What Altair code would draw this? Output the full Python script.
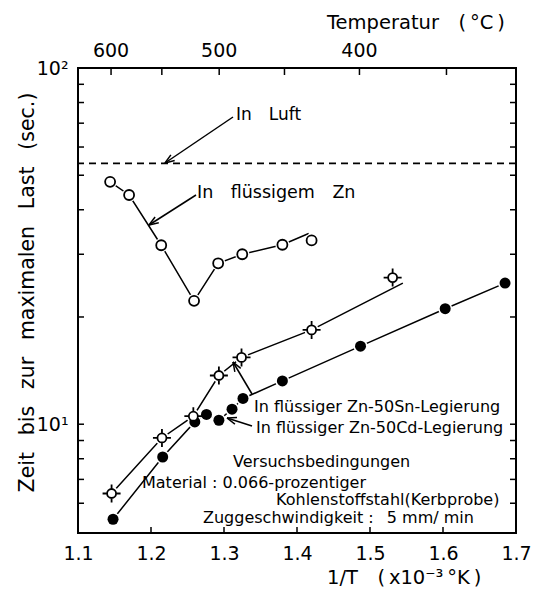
import altair as alt
import pandas as pd
import numpy as np

# ---------------- data ----------------
# In flüssigem Zn (open circles)
zn_x = [1.144, 1.170, 1.214, 1.259, 1.292, 1.325, 1.380, 1.420]
zn_y = [47.9, 44.0, 31.8, 22.2, 28.3, 30.0, 31.9, 32.8]
zn_line_x = [1.144, 1.170, 1.214, 1.259, 1.292, 1.325, 1.380, 1.416]
zn_line_y = [47.9, 44.0, 31.8, 22.2, 28.3, 30.0, 31.9, 34.3]

# In flüssiger Zn-50Sn-Legierung (circles with error ticks)
sn_x = [1.146, 1.215, 1.258, 1.293, 1.324, 1.420, 1.531]
sn_y = [6.39, 9.15, 10.53, 13.7, 15.4, 18.4, 25.8]
sn_line_x = [1.146, 1.215, 1.258, 1.293, 1.324, 1.420, 1.545]
sn_line_y = [6.39, 9.15, 10.53, 13.7, 15.4, 18.4, 24.9]

# In flüssiger Zn-50Cd-Legierung (filled circles)
cd_x = [1.148, 1.216, 1.260, 1.276, 1.293, 1.311, 1.326, 1.380, 1.487, 1.603, 1.685]
cd_y = [5.41, 8.09, 10.15, 10.65, 10.26, 11.02, 11.81, 13.23, 16.56, 21.1, 24.9]

# In Luft (dashed level)
luft_y = [54.0]

# axis ticks / labels
x_tick_vals = [1.1, 1.2, 1.3, 1.4, 1.5, 1.6, 1.7]
x_inner_ticks = [1.2, 1.3, 1.4, 1.5, 1.6]
y_label_vals = [10, 100]
y_minor_ticks = [6, 7, 8, 9, 10, 20, 30, 40, 50, 60, 70, 80, 90]
temp_ticks = [600, 550, 500, 450, 400, 350]
temp_labels = [600, 500, 400]

# ---------------- layout ----------------
FONT = "DejaVu Sans"
W, H = 438, 465
OX, OY = 78, 68
XMIN, XMAX = 1.1, 1.7
YMIN, YMAX = 4.95, 100.0

xs = alt.Scale(domain=[XMIN, XMAX], nice=False, zero=False)
ys = alt.Scale(type="log", domain=[YMIN, YMAX], nice=False)

x_axis = alt.Axis(values=x_tick_vals, format=".1f", title=None, ticks=False, domain=False,
                  grid=False, labelFont=FONT, labelFontSize=19, labelColor="black",
                  labelPadding=11, labelFlush=False, labelOverlap=False)
y_axis = alt.Axis(values=y_label_vals, labelExpr="datum.value == 100 ? '10²' : '10¹'",
                  title=None, ticks=False, domain=False, grid=False, labelFont=FONT,
                  labelFontSize=19, labelColor="black", labelPadding=10,
                  labelFlush=False, labelOverlap=False)


def X(field):
    return alt.X(field, type="quantitative", scale=xs, axis=x_axis)


def Y(field):
    return alt.Y(field, type="quantitative", scale=ys, axis=y_axis)


def cx(px):  # canvas pixel -> data x
    return XMIN + (px - OX) / W * (XMAX - XMIN)


def cy(py):  # canvas pixel -> data y (log)
    lmin, lmax = np.log10(YMIN), np.log10(YMAX)
    return float(10 ** (lmax - (py - OY) / H * (lmax - lmin)))


# ---------------- frame ticks ----------------
bottom_ticks = alt.Chart(pd.DataFrame({"v": x_inner_ticks})).mark_rule(
    color="black", strokeWidth=1.5).encode(x=X("v"), y=alt.value(H), y2=alt.value(H - 6))
left_ticks = alt.Chart(pd.DataFrame({"v": y_minor_ticks})).mark_rule(
    color="black", strokeWidth=1.5).encode(y=Y("v"), x=alt.value(0), x2=alt.value(6))
right_ticks = alt.Chart(pd.DataFrame({"v": y_minor_ticks})).mark_rule(
    color="black", strokeWidth=1.5).encode(y=Y("v"), x=alt.value(W), x2=alt.value(W - 6))
top_ticks = alt.Chart(pd.DataFrame({"t": temp_ticks})).transform_calculate(
    x="1000 / (datum.t + 273.15)").mark_rule(color="black", strokeWidth=1.5).encode(
    x=X("x"), y=alt.value(0), y2=alt.value(7))
top_labels = alt.Chart(pd.DataFrame({"t": temp_labels})).transform_calculate(
    x="1000 / (datum.t + 273.15)").mark_text(
    font=FONT, fontSize=19, baseline="alphabetic", align="center", color="black").encode(
    x=X("x"), y=alt.value(-11), text=alt.Text("t:Q"))

# ---------------- data marks ----------------
luft = alt.Chart(pd.DataFrame({"y": luft_y})).mark_rule(
    color="black", strokeWidth=1.8, strokeDash=[7, 5]).encode(y=Y("y"))


def line_layer(xv, yv):
    df = pd.DataFrame({"x": xv, "y": yv, "i": range(len(xv))})
    return alt.Chart(df).mark_line(color="black", strokeWidth=1.5).encode(
        x=X("x"), y=Y("y"), order=alt.Order("i:Q"))


zn_line = line_layer(zn_line_x, zn_line_y)
sn_line = line_layer(sn_line_x, sn_line_y)
cd_line = line_layer(cd_x, cd_y)

all_pts = pd.DataFrame({"x": zn_x + sn_x + cd_x, "y": zn_y + sn_y + cd_y})
halos = alt.Chart(all_pts).mark_point(shape="circle", filled=True, color="white",
                                      size=200, opacity=1).encode(x=X("x"), y=Y("y"))

zn_pts = alt.Chart(pd.DataFrame({"x": zn_x, "y": zn_y})).mark_point(
    shape="circle", filled=True, fill="white", stroke="black", strokeWidth=1.8,
    size=100, opacity=1).encode(x=X("x"), y=Y("y"))

SN_PATH = ("M-1,0L-0.5,0M0.5,0L1,0M0,-1L0,-0.5M0,0.5L0,1"
           "M0.5,0A0.5,0.5,0,1,1,-0.5,0A0.5,0.5,0,1,1,0.5,0Z")
sn_pts = alt.Chart(pd.DataFrame({"x": sn_x, "y": sn_y})).mark_point(
    shape=SN_PATH, filled=True, fill="white", stroke="black", strokeWidth=1.8,
    size=324, opacity=1).encode(x=X("x"), y=Y("y"))

cd_pts = alt.Chart(pd.DataFrame({"x": cd_x, "y": cd_y})).mark_point(
    shape="circle", filled=True, color="black", size=121, opacity=1).encode(
    x=X("x"), y=Y("y"))

# ---------------- annotation arrows ----------------
arrows_canvas = [
    ((233, 117), (165, 163)),   # In Luft
    ((196, 195), (149, 225)),   # In flüssigem Zn
    ((252, 394), (233, 362)),   # Zn-50Sn
    ((252, 426), (227, 418)),   # Zn-50Cd
]
segs = []
L, ang = 10.0, np.deg2rad(20)
for (sx, sy), (tx, ty) in arrows_canvas:
    segs.append((sx, sy, tx, ty))
    d = np.array([sx - tx, sy - ty], dtype=float)
    d /= np.linalg.norm(d)
    for a in (ang, -ang):
        r = np.array([d[0] * np.cos(a) - d[1] * np.sin(a), d[0] * np.sin(a) + d[1] * np.cos(a)])
        segs.append((tx + L * r[0], ty + L * r[1], tx, ty))
seg_df = pd.DataFrame([{"x": cx(a), "y": cy(b), "x2": cx(c), "y2": cy(d)} for a, b, c, d in segs])
arrows = alt.Chart(seg_df).mark_rule(color="black", strokeWidth=1.5).encode(
    x=X("x"), y=Y("y"), x2="x2:Q", y2="y2:Q")

# ---------------- annotation texts ----------------
ann = [
    ("In\u2003Luft", 236, 120, 17),
    ("In\u2003flüssigem\u2003Zn", 197, 198, 17.5),
    ("In flüssiger Zn-50Sn-Legierung", 254, 412, 16),
    ("In flüssiger Zn-50Cd-Legierung", 256, 433, 16),
    ("Versuchsbedingungen", 233, 467, 16),
    ("Material : 0.066-prozentiger", 142, 488, 16),
    ("Kohlenstoffstahl(Kerbprobe)", 276, 505, 16),
    ("Zuggeschwindigkeit :\u2002 5 mm/ min", 203, 523, 16),
]
ann_df = pd.DataFrame([{"t": t, "x": cx(a), "y": cy(b), "fs": fs} for t, a, b, fs in ann])
texts = alt.Chart(ann_df).mark_text(font=FONT, align="left", baseline="alphabetic",
                                    color="black").encode(
    x=X("x"), y=Y("y"), text="t:N", size=alt.Size("fs:Q", scale=None, legend=None))

# ---------------- titles ----------------
def title_layer(txt, px, py, angle=0, align="left", baseline="alphabetic", fs=19.5):
    return alt.Chart(pd.DataFrame({"t": [txt]})).mark_text(
        font=FONT, fontSize=fs, align=align, baseline=baseline, angle=angle,
        color="black").encode(x=alt.value(px), y=alt.value(py), text="t:N")


GAP = "\u2002\u00a0"
top_title = title_layer("Temperatur\u2003(\u2009°C\u2009)", 327 - OX, 29 - OY)
bottom_title = title_layer("1/T\u2003(\u2009x10⁻³\u2009°K\u2009)", 327 - OX, 584 - OY)
y_title = title_layer(GAP.join(["Zeit", "bis", "zur", "maximalen", "Last", "(sec.)"]),
                      27.5 - OX, 292.5 - OY, angle=270, align="center",
                      baseline="middle", fs=20.5)

chart = alt.layer(
    luft, zn_line, sn_line, cd_line, arrows, halos, zn_pts, cd_pts, sn_pts,
    bottom_ticks, left_ticks, right_ticks, top_ticks, top_labels,
    texts, top_title, bottom_title, y_title,
).properties(
    width=W, height=H,
    autosize=alt.AutoSizeParams(type="none"),
    padding={"left": OX, "top": OY, "right": 541 - OX - W, "bottom": 592 - OY - H},
).configure_view(stroke="black", strokeWidth=2)

chart.save("out.html", embed_options={"renderer": "svg", "actions": False})
